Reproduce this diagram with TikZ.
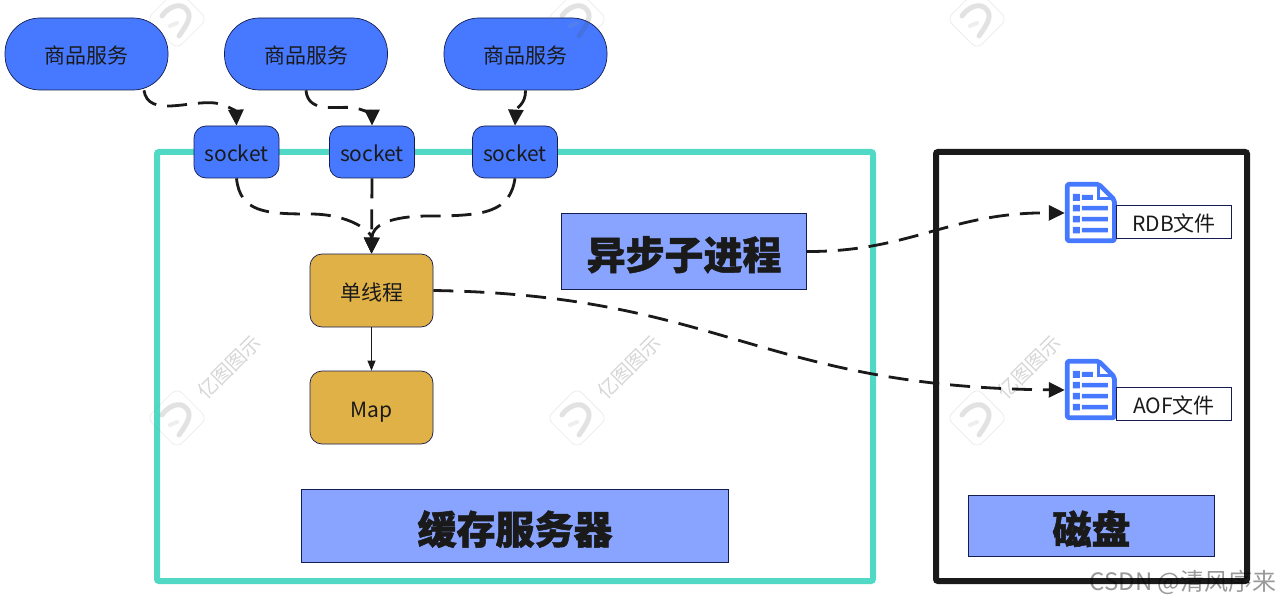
\documentclass[tikz,border=0pt]{standalone}
\usepackage{fontspec}
\setmainfont{Noto Sans CJK SC}[BoldFeatures={FakeBold=1.3}]
\usepackage{xcolor}
\usetikzlibrary{positioning, calc, arrows.meta}
\definecolor{svcblue}{HTML}{4679FF}
\definecolor{titleblue}{HTML}{88A4FF}
\definecolor{threadgold}{HTML}{E0B146}
\definecolor{frameteal}{HTML}{52D9C5}
\definecolor{inkblack}{HTML}{1A1A1A}
\definecolor{edgenavy}{HTML}{141C50}
\newcommand{\Fs}[1]{\fontsize{#1}{#1}\selectfont}
\newcommand{\DocIcon}[1]{%
    \begin{scope}[shift={(#1.north west)}]
        \draw[svcblue, line width=4.7, line join=round, rounded corners=2] (2.4,2.4) -- (34,2.4) -- (49.6,18) -- (49.6,59) -- (2.4,59) -- cycle;
        \draw[svcblue, line width=3] (34,2.4) -- (34,17) -- (49.6,17);
        \fill[svcblue] (8,12) rectangle (15,19) (17,13) rectangle (28,18);
        \foreach \y in {23,34,45} {
            \fill[svcblue] (8,\y) rectangle (15,\y+6.5) (17,\y+1) rectangle (43,\y+5.5);
        }
    \end{scope}
}
\newcommand{\Wmark}[2]{%
    \begin{scope}[shift={(#1,#2)}, opacity=.16]
        \draw[gray, line width=.7, rounded corners=7] (-30,0) -- (0,-30) -- (30,0) -- (0,30) -- cycle;
        \draw[black!70, line width=5, line cap=round] (-15,-3) .. controls (-9,-12) and (3,-17) .. (9,-10) .. controls (15,-4) and (12,3) .. (2,17);
        \draw[black!40, line width=4, line cap=round] (-7,7) -- (0,4);
    \end{scope}
}
\tikzset{
    svcnode/.style={draw=edgenavy, fill=svcblue, text=inkblack, line width=.7, rounded corners=35, minimum width=163, minimum height=72, text height=20, text depth=0, font=\Fs{21}},
    socketnode/.style={draw=edgenavy, fill=svcblue, text=inkblack, line width=.7, rounded corners=12, minimum width=85, minimum height=52, text height=20, text depth=0, font=\Fs{21}},
    corenode/.style={draw=edgenavy, fill=threadgold, text=inkblack, line width=.7, rounded corners=12, minimum width=123, minimum height=73, text height=20, text depth=0, font=\Fs{21}},
    titlenode/.style={draw=edgenavy, fill=titleblue, text=inkblack, line width=.7, text height=36, text depth=0, font=\Fs{39}\bfseries},
    filelabel/.style={draw=edgenavy, fill=white, text=inkblack, line width=.7, minimum width=115, minimum height=33, text height=18, text depth=0, font=\Fs{21}},
    iconbox/.style={minimum width=52, minimum height=62, inner sep=0},
    dashflow/.style={inkblack, line width=2.8, dash pattern=on 20 off 11, -{Triangle[length=16,width=15]}},
    thinflow/.style={inkblack, line width=.8, -{Triangle[length=10,width=8]}},
    wmtext/.style={text=black, opacity=.16, rotate=45, font=\Fs{20}}
}
\begin{document}
\begin{tikzpicture}[x=1pt, y=-1pt]
    \path[use as bounding box, fill=white] (0,0) rectangle (1282,604);

    % Frames
    \draw[frameteal, line width=6, rounded corners=2] (157,152) rectangle (873,581);
    \draw[inkblack, line width=6, rounded corners=2] (936,152) rectangle (1247,581);

    % Services
    \node[svcnode] (svcA) at (86.5,54) {商品服务};
    \node[svcnode] (svcB) at (306,54) {商品服务};
    \node[svcnode] (svcC) at (525.5,54) {商品服务};

    % Sockets
    \node[socketnode] (sockA) at (236.5,152) {socket};
    \node[socketnode] (sockB) at (372,152) {socket};
    \node[socketnode] (sockC) at (515,152) {socket};

    % Cache server
    \node[corenode] (thread) at (371.5,290.5) {单线程};
    \node[corenode] (map) at (371.5,407.5) {Map};
    \node[titlenode, minimum width=245, minimum height=76] (fork) at (684,251.5) {异步子进程};
    \node[titlenode, minimum width=427, minimum height=73] (cache) at (515,526) {缓存服务器};

    % Disk
    \node[titlenode, minimum width=246, minimum height=61] (disk) at (1091.5,526) {磁盘};
    \node[iconbox] (rdbIcon) at (1091,213) {};
    \node[iconbox] (aofIcon) at (1091,390) {};
    \DocIcon{rdbIcon}
    \DocIcon{aofIcon}
    \node[filelabel] (rdb) at (1174,222) {RDB文件};
    \node[filelabel] (aof) at (1174,404) {AOF文件};

    % Flows
    \draw[dashflow] ([xshift=57.5pt]svcA.south) .. controls (148,118) and (190,100) .. (215,103) .. controls (228,105) and (236,112) .. (sockA.north);
    \draw[dashflow] (svcB.south) .. controls (308,115) and (340,105) .. (355,108) .. controls (366,110) and (372,116) .. (sockB.north);
    \draw[dashflow] (svcC.south) .. controls (526,104) and (516,108) .. (sockC.north);
    \draw[dashflow] (sockA.south) .. controls (240,212) and (265,214) .. (310,214) .. controls (350,214) and (372,232) .. (thread.north);
    \draw[dashflow] (sockB.south) -- (thread.north);
    \draw[dashflow] (sockC.south) .. controls (510,212) and (485,216) .. (430,216) .. controls (390,216) and (372,225) .. (thread.north);
    \draw[thinflow] (thread) -- (map);
    \draw[dashflow] (fork.east) .. controls (910,252) and (950,212) .. (rdbIcon.west);
    \draw[dashflow] (thread.east) .. controls (720,295) and (760,387) .. (aofIcon.west);

    % Watermarks
    \foreach \x in {177,577,977} {
        \Wmark{\x}{19}
        \Wmark{\x}{418}
        \node[wmtext] (wm\x) at (\x+52,367) {亿图图示};
    }
    \node[anchor=east, text=black, opacity=.4, font=\Fs{24}] (csdn) at (1280,582) {CSDN @清风序来};
\end{tikzpicture}
\end{document}
